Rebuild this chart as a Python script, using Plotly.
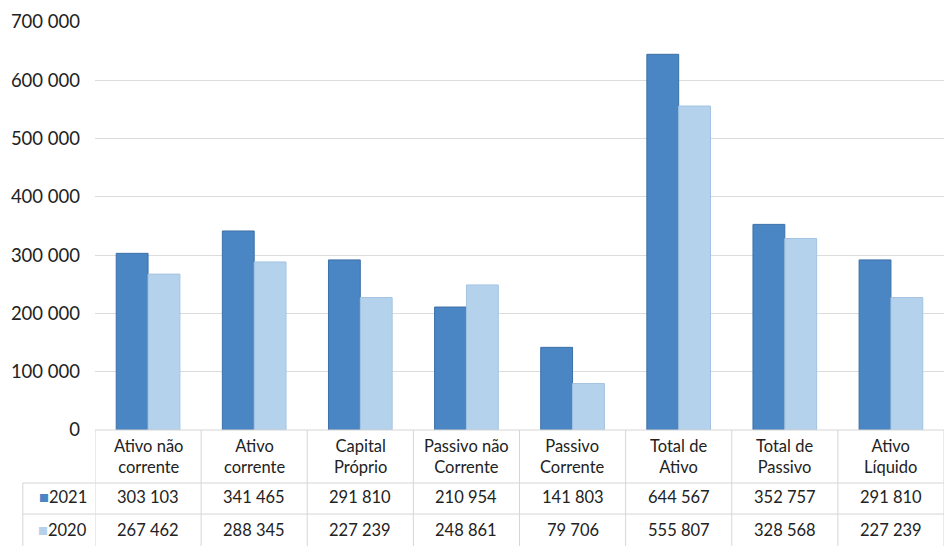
import plotly.graph_objects as go

categories = ["Ativo não<br>corrente", "Ativo<br>corrente", "Capital<br>Próprio",
              "Passivo não<br>Corrente", "Passivo<br>Corrente", "Total de<br>Ativo",
              "Total de<br>Passivo", "Ativo<br>Líquido"]
series_names = ["2021", "2020"]
values_2021 = [303103, 341465, 291810, 210954, 141803, 644567, 352757, 291810]
values_2020 = [267462, 288345, 227239, 248861, 79706, 555807, 328568, 227239]
tick_vals = [0, 100000, 200000, 300000, 400000, 500000, 600000, 700000]

colors = ["#4a86c4", "#b5d2ec"]
line_colors = ["#3c70a8", "#a3c3e2"]
FONT = "Lato, 'Liberation Sans', sans-serif"
FS = 16.5

def fmt(v):
    return f"{v:,}".replace(",", " ")

fig = go.Figure()
for name, vals, c, lc in zip(series_names, [values_2021, values_2020], colors, line_colors):
    fig.add_trace(go.Bar(x=list(range(len(categories))), y=vals, name=name,
                         marker=dict(color=c, line=dict(color=lc, width=1))))

n = len(categories)
y_head = -0.066
y_r1 = -0.164
y_r2 = -0.245
ann = []
for i, cat in enumerate(categories):
    ann.append(dict(x=i, y=y_head, xref="x", yref="paper", text=cat, showarrow=False,
                    yanchor="middle", font=dict(size=FS, color="#222"), align="center"))
    ann.append(dict(x=i, y=y_r1, xref="x", yref="paper", text=fmt(values_2021[i]), showarrow=False,
                    yanchor="middle", font=dict(size=FS, color="#222")))
    ann.append(dict(x=i, y=y_r2, xref="x", yref="paper", text=fmt(values_2020[i]), showarrow=False,
                    yanchor="middle", font=dict(size=FS, color="#222")))
for name, c, yy in zip(series_names, colors, [y_r1, y_r2]):
    ann.append(dict(x=0.0, xref="paper", y=yy, yref="paper", xanchor="right", yanchor="middle",
                    xshift=-6, text=f"<span style='color:{c}'>■</span>{name}", showarrow=False,
                    font=dict(size=FS, color="#222")))

shapes = []
grid_c = "#d6d6d6"
shapes.append(dict(type="line", xref="x", yref="paper", x0=-0.5, x1=n - 0.5, y0=0, y1=0,
                   line=dict(color=grid_c, width=1)))
for yy in [-0.13, -0.206]:
    shapes.append(dict(type="line", xref="paper", yref="paper", x0=-0.085, x1=1, y0=yy, y1=yy,
                       line=dict(color=grid_c, width=1)))
for i in range(n + 1):
    shapes.append(dict(type="line", xref="x", yref="paper", x0=i - 0.5, x1=i - 0.5, y0=0, y1=-0.29,
                       line=dict(color=grid_c, width=1)))
shapes.append(dict(type="line", xref="paper", yref="paper", x0=-0.085, x1=-0.085, y0=-0.13, y1=-0.29,
                   line=dict(color=grid_c, width=1)))

fig.update_layout(
    width=944, height=546,
    margin=dict(l=95, r=0, t=22, b=116),
    paper_bgcolor="white", plot_bgcolor="white",
    font=dict(family=FONT, size=FS, color="#222"),
    separators=", ",
    barmode="group", bargap=0.4, bargroupgap=0,
    showlegend=False,
    xaxis=dict(range=[-0.5, n - 0.5], showticklabels=False, showgrid=False, zeroline=False,
               ticks="", fixedrange=True),
    yaxis=dict(range=[0, 700000], tickvals=tick_vals, tickformat=",d", showgrid=True,
               gridcolor="#dcdcdc", gridwidth=1, zeroline=False, ticks="", ticklen=0,
               ticklabelstandoff=14,
               tickfont=dict(size=18.5, color="#222"), automargin=False),
    annotations=ann, shapes=shapes,
)
fig.write_html("out.html")
